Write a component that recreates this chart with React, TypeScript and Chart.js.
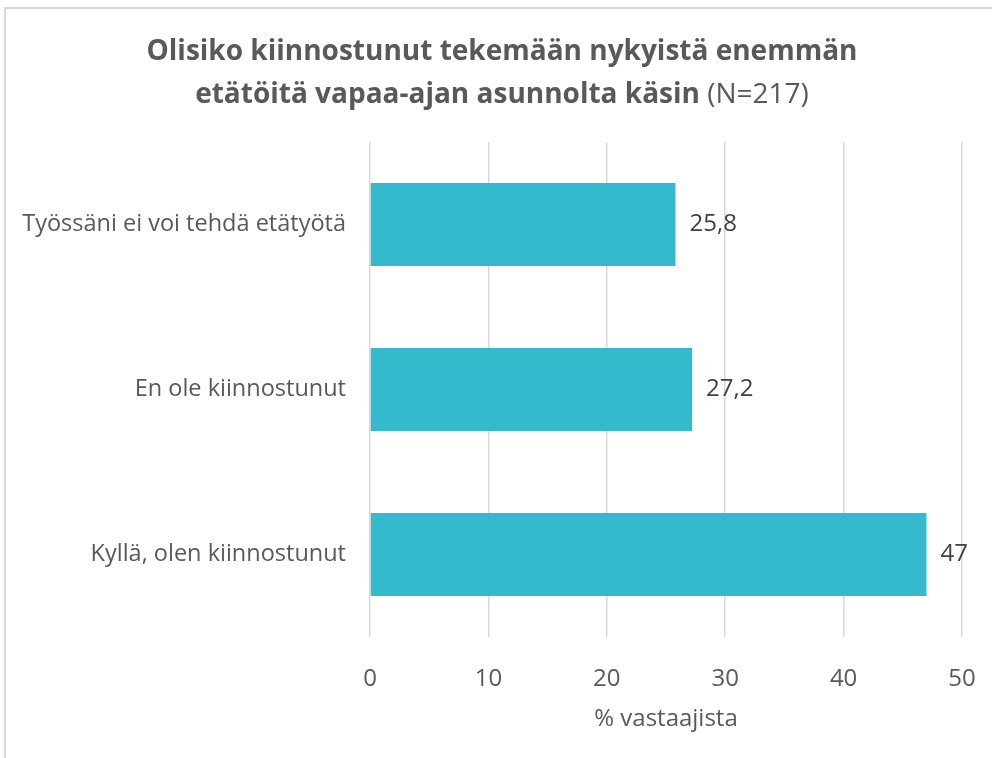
import React, { useEffect, useRef } from "react";
import { Chart, registerables } from "chart.js";

Chart.register(...registerables);

const categories = [
  "Työssäni ei voi tehdä etätyötä",
  "En ole kiinnostunut",
  "Kyllä, olen kiinnostunut",
];
const values = [25.8, 27.2, 47];
const xTicks = [0, 10, 20, 30, 40, 50];
const titleLine1 = "Olisiko kiinnostunut tekemään nykyistä enemmän";
const titleLine2Bold = "etätöitä vapaa-ajan asunnolta käsin";
const titleLine2Normal = " (N=217)";
const xAxisTitle = "% vastaajista";

const FONT = "'Open Sans', Lato, sans-serif";

const dataLabelPlugin = {
  id: "dataLabels",
  afterDatasetsDraw(chart: any) {
    const ctx = chart.ctx;
    const meta = chart.getDatasetMeta(0);
    ctx.save();
    ctx.font = `24px ${FONT}`;
    ctx.fillStyle = "#404040";
    ctx.textAlign = "left";
    ctx.textBaseline = "middle";
    meta.data.forEach((bar: any, i: number) => {
      const v = chart.data.datasets[0].data[i];
      ctx.fillText(String(v).replace(".", ","), bar.x + 14, bar.y);
    });
    ctx.restore();
  },
};

export default function App() {
  const canvasRef = useRef<HTMLCanvasElement | null>(null);

  useEffect(() => {
    document.body.style.margin = "0";
    const canvas = canvasRef.current;
    if (!canvas) return;
    const chart = new Chart(canvas, {
      type: "bar",
      data: {
        labels: categories,
        datasets: [
          {
            data: values,
            backgroundColor: "#35B9CC",
            borderWidth: 0,
            barPercentage: 0.503,
            categoryPercentage: 1,
          },
        ],
      },
      options: {
        indexAxis: "y",
        responsive: false,
        animation: false,
        layout: { padding: { top: 142, right: 30, bottom: 24, left: 0 } },
        plugins: {
          legend: { display: false },
          tooltip: { enabled: false },
          title: { display: false },
        },
        scales: {
          x: {
            min: 0,
            max: 50,
            afterBuildTicks(scale: any) {
              scale.ticks = xTicks.map((v) => ({ value: v }));
            },
            afterFit(scale: any) {
              scale.height = 97;
              scale.paddingLeft = 0;
              scale.paddingRight = 0;
            },
            grid: {
              color: "#d9d9d9",
              lineWidth: 1.5,
              drawTicks: false,
            },
            border: { display: false },
            ticks: {
              padding: 28,
              color: "#595959",
              font: { family: FONT, size: 24 },
            },
            title: {
              display: true,
              text: xAxisTitle,
              color: "#595959",
              font: { family: FONT, size: 24 },
              padding: { top: 10, bottom: 0 },
            },
          },
          y: {
            afterFit(scale: any) {
              scale.width = 370;
              scale.paddingTop = 0;
              scale.paddingBottom = 0;
            },
            grid: { display: false, drawTicks: false },
            border: { display: false },
            ticks: {
              padding: 24,
              color: "#595959",
              font: { family: FONT, size: 23.5 },
            },
          },
        },
      },
      plugins: [dataLabelPlugin],
    });
    return () => chart.destroy();
  }, []);

  return (
    <div
      style={{
        position: "relative",
        width: 992,
        height: 758,
        background: "#ffffff",
        overflow: "hidden",
        fontFamily: FONT,
      }}
    >
      <div
        style={{
          position: "absolute",
          left: 4,
          top: 7,
          width: 1100,
          height: 900,
          border: "2px solid #d9d9d9",
          boxSizing: "border-box",
        }}
      />
      <canvas
        ref={canvasRef}
        width={992}
        height={758}
        style={{ position: "absolute", left: 0, top: 0 }}
      />
      <div
        style={{
          position: "absolute",
          left: 0,
          top: 28,
          width: 1004,
          textAlign: "center",
          color: "#595959",
          fontSize: 28,
          lineHeight: "43px",
        }}
      >
        <div style={{ fontWeight: 700 }}>{titleLine1}</div>
        <div>
          <span style={{ fontWeight: 700 }}>{titleLine2Bold}</span>
          <span style={{ fontWeight: 400 }}>{titleLine2Normal}</span>
        </div>
      </div>
    </div>
  );
}
